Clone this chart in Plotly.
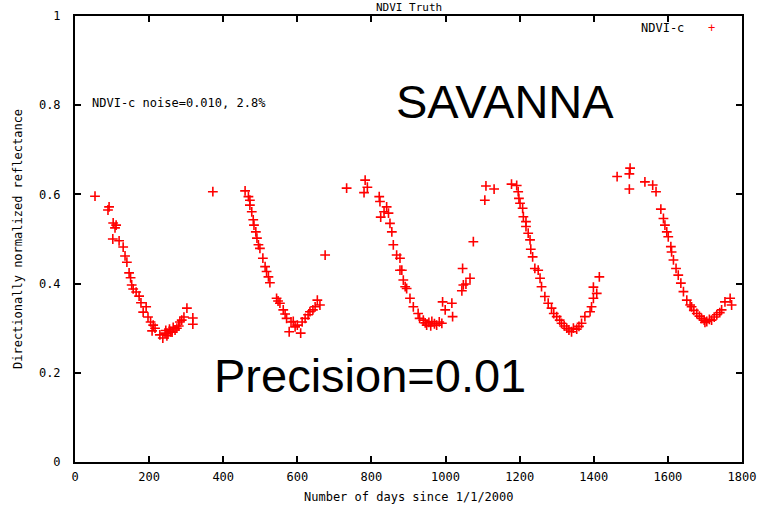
import plotly.graph_objects as go

days = [
    # cycle 1
    54, 92, 89, 103, 108, 111, 102, 119, 130, 135, 140, 146, 150, 153, 157, 165, 173, 178,
    184, 192, 197, 204, 211, 208, 216, 229, 237, 243, 251, 262, 270, 275, 283, 294, 302,
    318, 318, 245, 255, 265, 280, 288, 258, 248, 372,
    # cycle 2
    459, 468, 472, 472, 477, 481, 483, 488, 491, 495, 499, 507, 513, 517, 522, 526, 544,
    548, 553, 562, 567, 571, 578, 583, 589, 594, 600, 609, 613, 621, 629, 634, 642, 648,
    654, 661, 675,
    # cycle 3
    733, 783, 789, 780, 821, 823, 825, 834, 841, 846, 850, 855, 859, 868, 877, 877, 882,
    886, 891, 895, 904, 913, 926, 940, 949, 963, 976, 990, 992, 999, 1017, 1019, 1044,
    1048, 1046, 1055, 1066, 1075, 1109, 1106, 1131, 930, 945, 955, 970, 983, 960,
    # cycle 4
    1178, 1192, 1196, 1198, 1201, 1208, 1210, 1217, 1217, 1223, 1228, 1230, 1235, 1241,
    1250, 1255, 1259, 1268, 1277, 1286, 1300, 1313, 1327, 1340, 1354, 1367, 1376, 1390,
    1394, 1399, 1408, 1399, 1415, 1320, 1333, 1345, 1360, 1308, 1292,
    # cycle 5
    1463, 1496, 1498, 1496, 1538, 1559, 1568, 1581, 1588, 1592, 1597, 1601, 1608, 1610,
    1615, 1622, 1628, 1635, 1642, 1651, 1664, 1678, 1691, 1705, 1718, 1732, 1745, 1754,
    1768, 1772, 1660, 1670, 1685, 1698, 1712, 1700, 1725, 1740,
]
ndvi = [
    # cycle 1
    0.596, 0.572, 0.565, 0.536, 0.525, 0.531, 0.500, 0.496, 0.482, 0.462, 0.448, 0.424,
    0.413, 0.397, 0.388, 0.381, 0.372, 0.357, 0.336, 0.348, 0.325, 0.314, 0.307, 0.294,
    0.300, 0.285, 0.278, 0.289, 0.287, 0.291, 0.296, 0.300, 0.314, 0.325, 0.345, 0.323,
    0.309, 0.295, 0.298, 0.302, 0.305, 0.318, 0.292, 0.283, 0.606,
    # cycle 2
    0.608, 0.595, 0.587, 0.576, 0.561, 0.543, 0.531, 0.516, 0.502, 0.487, 0.479, 0.457,
    0.438, 0.427, 0.415, 0.402, 0.367, 0.361, 0.356, 0.341, 0.332, 0.322, 0.292, 0.314,
    0.315, 0.303, 0.307, 0.289, 0.314, 0.322, 0.330, 0.337, 0.341, 0.348, 0.363, 0.352,
    0.464,
    # cycle 3
    0.614, 0.632, 0.616, 0.604, 0.595, 0.584, 0.549, 0.561, 0.572, 0.558, 0.535, 0.516,
    0.487, 0.464, 0.457, 0.430, 0.430, 0.408, 0.393, 0.389, 0.367, 0.348, 0.333, 0.318,
    0.307, 0.315, 0.307, 0.311, 0.359, 0.341, 0.356, 0.326, 0.384, 0.397, 0.434, 0.399,
    0.412, 0.494, 0.619, 0.587, 0.612, 0.322, 0.312, 0.313, 0.310, 0.314, 0.305,
    # cycle 4
    0.623, 0.620, 0.606, 0.591, 0.580, 0.569, 0.550, 0.539, 0.528, 0.513, 0.498, 0.477,
    0.460, 0.434, 0.430, 0.412, 0.393, 0.371, 0.356, 0.345, 0.326, 0.311, 0.300, 0.292,
    0.298, 0.311, 0.326, 0.337, 0.348, 0.367, 0.378, 0.392, 0.415, 0.305, 0.296, 0.300,
    0.304, 0.318, 0.333,
    # cycle 5
    0.640, 0.646, 0.659, 0.612, 0.628, 0.621, 0.606, 0.567, 0.546, 0.531, 0.516, 0.505,
    0.483, 0.471, 0.453, 0.434, 0.419, 0.401, 0.382, 0.363, 0.348, 0.333, 0.322, 0.315,
    0.318, 0.330, 0.341, 0.359, 0.367, 0.352, 0.352, 0.340, 0.327, 0.318, 0.320, 0.313,
    0.325, 0.335,
]

x_ticks = [0, 200, 400, 600, 800, 1000, 1200, 1400, 1600, 1800]
y_ticks = [0, 0.2, 0.4, 0.6, 0.8, 1]
y_tick_text = ["0", "0.2", "0.4", "0.6", "0.8", "1"]

mono = "DejaVu Sans Mono"
small = dict(family=mono, size=12, color="black")

fig = go.Figure()
fig.add_trace(go.Scatter(
    x=days, y=ndvi, mode="markers", name="NDVI-c",
    marker=dict(symbol="cross-thin", size=7, color="red",
                line=dict(width=1.6, color="red")),
    showlegend=False,
))

axis_common = dict(
    showgrid=False, zeroline=False, showline=True, linecolor="black", linewidth=2,
    mirror="ticks", ticks="inside", ticklen=6, tickwidth=1.5, tickcolor="black",
    tickfont=small, automargin=False,
)

fig.update_layout(
    width=757, height=508,
    margin=dict(l=75, r=15, t=16, b=46),
    paper_bgcolor="white", plot_bgcolor="white",
    xaxis=dict(range=[0, 1800], tickvals=x_ticks, ticklabelstandoff=3, **axis_common),
    yaxis=dict(range=[0, 1], tickvals=y_ticks, ticktext=y_tick_text,
               ticklabelstandoff=10, **axis_common),
    annotations=[
        dict(text="NDVI Truth", xref="paper", yref="paper", x=0.5, y=1, yshift=9,
             xanchor="center", yanchor="middle", showarrow=False,
             font=dict(family=mono, size=11, color="black")),
        dict(text="Number of days since 1/1/2000", xref="paper", yref="paper",
             x=0.5, y=0, yshift=-35, xanchor="center", yanchor="middle",
             showarrow=False, font=small),
        dict(text="Directionally normalized reflectance", xref="paper", yref="paper",
             x=0, xshift=-57, y=0.5, textangle=-90, xanchor="center", yanchor="middle",
             showarrow=False, font=small),
        dict(text="NDVI-c", xref="paper", yref="paper", x=0.916, y=0.972,
             xanchor="right", yanchor="middle", showarrow=False, font=small),
        dict(text="+", xref="paper", yref="paper", x=0.955, y=0.972,
             xanchor="center", yanchor="middle", showarrow=False,
             font=dict(family=mono, size=12, color="red")),
        dict(text="NDVI-c noise=0.010, 2.8%", xref="paper", yref="paper", x=0.022, y=0.806,
             xanchor="left", yanchor="middle", showarrow=False, font=small),
        dict(text="SAVANNA", xref="paper", yref="paper", x=0.645, y=0.808,
             xanchor="center", yanchor="middle", showarrow=False,
             font=dict(family="Liberation Sans", size=47, color="black")),
        dict(text="Precision=0.01", xref="paper", yref="paper", x=0.443, y=0.195,
             xanchor="center", yanchor="middle", showarrow=False,
             font=dict(family="Liberation Sans", size=47, color="black")),
    ],
)

fig.write_html("out.html", config={"displayModeBar": False},
               post_script="document.body.style.margin='0';")
